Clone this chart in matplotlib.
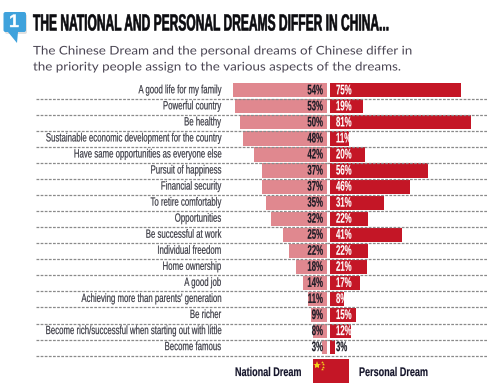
import matplotlib
matplotlib.use('Agg')
import matplotlib.pyplot as plt
from matplotlib.patches import Polygon, FancyBboxPatch, Rectangle
from matplotlib.patheffects import AbstractPathEffect
from matplotlib.text import Text
from matplotlib.transforms import Affine2D, Bbox

categories = ['A good life for my family', 'Powerful country', 'Be healthy',
              'Sustainable economic development for the country',
              'Have same opportunities as everyone else', 'Pursuit of happiness',
              'Financial security', 'To retire comfortably', 'Opportunities',
              'Be successful at work', 'Individual freedom', 'Home ownership',
              'A good job', "Achieving more than parents' generation", 'Be richer',
              'Become rich/successful when starting out with little', 'Become famous']
national = [54, 53, 50, 48, 42, 37, 37, 35, 32, 25, 22, 18, 14, 11, 9, 8, 3]
personal = [75, 19, 81, 11, 20, 56, 46, 31, 22, 41, 22, 21, 17, 8, 15, 12, 3]

W, H = 489, 389
PINK = '#e0888f'
RED = '#c41626'
FONT = 'Liberation Sans'
s = 1.745  # px per percent
top, pitch = 90.3, 16.05
n = len(categories)


# no condensed font installed, so squeeze the glyphs sideways around the text anchor
class Squeeze(AbstractPathEffect):
    def __init__(self, text, factor, heavy):
        super().__init__()
        self.text = text
        self.factor = factor
        self.heavy = heavy

    def draw_path(self, renderer, gc, tpath, affine, rgbFace=None):
        x0 = self.text.anchor_x()
        squeeze = Affine2D().translate(-x0, 0).scale(self.factor, 1).translate(x0, 0)
        gc0 = renderer.new_gc()
        gc0.copy_properties(gc)
        gc0.set_linewidth(self.heavy)
        gc0.set_foreground(rgbFace)
        renderer.draw_path(gc0, tpath, affine + squeeze, rgbFace)
        gc0.restore()


class NarrowText(Text):
    def __init__(self, x, y, label, factor, heavy=0, **kw):
        super().__init__(x, y, label, clip_on=False, **kw)
        self.factor = factor
        self.set_path_effects([Squeeze(self, factor, heavy)])

    def anchor_x(self):
        return self.get_transform().transform(self.get_position())[0]

    def get_window_extent(self, renderer=None, dpi=None):
        box = super().get_window_extent(renderer, dpi)
        x0 = self.anchor_x()
        return Bbox.from_extents(x0 + (box.x0 - x0) * self.factor, box.y0,
                                 x0 + (box.x1 - x0) * self.factor, box.y1)


def put(ax, x, y, label, factor, heavy=0, **kw):
    return ax.add_artist(NarrowText(x, y, label, factor, heavy, **kw))


fig = plt.figure(figsize=(W / 100, H / 100), dpi=100)


def rect(x0, x1, y0, y1):
    return [x0 / W, 1 - y1 / H, (x1 - x0) / W, (y1 - y0) / H]


bg = fig.add_axes([0, 0, 1, 1])
bg.axis('off')

y0, y1 = top - pitch / 2, top + pitch * (n - 0.5)
ax_l = fig.add_axes(rect(36, 327, y0, y1))
ax_r = fig.add_axes(rect(327, W, y0, y1))
ax_l.set_xlim(291 / s, 0)
ax_r.set_xlim(-3 / s, (W - 327 - 3) / s)
for ax in (ax_l, ax_r):
    ax.set_ylim(n - 0.5, -0.5)
    ax.axis('off')
    for i in range(n):
        ax.axhline(i + 0.53, color='#8a8a8a', lw=0.9, ls=(0, (2.2, 1.1)), clip_on=False)

ys = list(range(n))
ax_l.barh(ys, national, height=0.88, color=PINK)
ax_r.barh(ys, personal, height=0.88, color=RED)

for i in ys:
    put(ax_l, 106 / s, i, categories[i], 0.655, 0.1, ha='right', va='center', fontsize=8.6,
        family=FONT, color='#33333d')
    put(ax_l, 4 / s, i, f'{national[i]}%', 0.56, 0.1, ha='right', va='center', fontsize=10,
        family=FONT, weight='bold', color='#1a1a24')
    put(ax_r, 6 / s, i, f'{personal[i]}%', 0.56, 0.1, ha='left', va='center', fontsize=10,
        family=FONT, weight='bold', color='white' if personal[i] > 3 else '#1a1a24')

# header
bg.add_patch(FancyBboxPatch((5, 14), 22, 20, boxstyle='round,pad=0,rounding_size=2',
                            fc='#888888', ec='none', alpha=0.25))
bg.add_patch(FancyBboxPatch((3.5, 12), 22.5, 20, boxstyle='round,pad=0,rounding_size=2',
                            fc='#3fa2dc', ec='none'))
bg.add_patch(Polygon([[8, 32], [18, 32], [17, 43]], fc='#3fa2dc', ec='none'))
put(bg, 14, 22.5, '1', 1.0, 0.3, ha='center', va='center', fontsize=13, weight='bold',
    family=FONT, color='white')
put(bg, 33, 24, 'THE NATIONAL AND PERSONAL DREAMS DIFFER IN CHINA...', 0.515, 0.4, ha='left',
    va='center', fontsize=16.8, weight='bold', family=FONT, color='#0c0c10')
sub = dict(ha='left', va='center', fontsize=8.6, family='Lato', color='#4b4654')
put(bg, 33, 51, 'The Chinese Dream and the personal dreams of Chinese differ in', 1.12, **sub)
put(bg, 33, 67, 'the priority people assign to the various aspects of the dreams.', 1.12, **sub)

# legend
bg.add_patch(Rectangle((313, 359), 36, 24, fc=RED, ec='none'))
bg.plot([317], [365], marker='*', ms=6, color='#f2d21b', mew=0)
bg.plot([322, 323, 323, 322], [362, 364, 367, 369], ls='none', marker='*', ms=2.2,
        color='#f2d21b', mew=0)
bg.set_xlim(0, W)
bg.set_ylim(H, 0)
leg = dict(ha='left', va='center', fontsize=9, weight='bold', family=FONT, color='#14142a')
put(bg, 235, 373, 'National Dream', 0.725, 0.1, **leg)
put(bg, 359, 373, 'Personal Dream', 0.725, 0.1, **leg)

fig.savefig('out.png', dpi=100)
